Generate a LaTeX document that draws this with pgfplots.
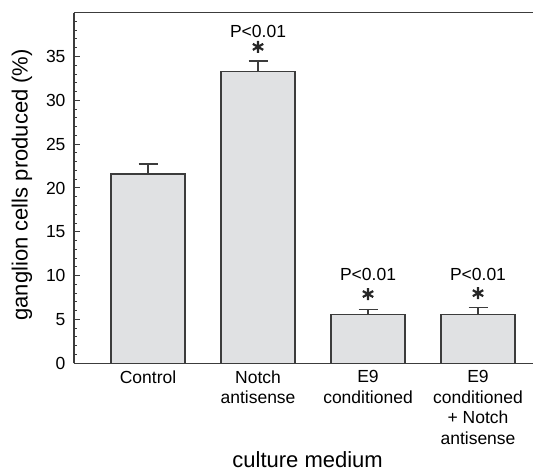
\documentclass[border=0pt]{standalone}
\usepackage{fontspec}
\setmainfont{Liberation Sans}
\usepackage{pgfplots}
\pgfplotsset{compat=1.18}

\definecolor{barfill}{RGB}{224,225,227}
\definecolor{lines}{RGB}{60,60,60}

\begin{document}
\begin{tikzpicture}
\begin{axis}[
  width=459pt, height=350.6pt, scale only axis,
  xmin=0.327, xmax=4.5, ymin=0, ymax=40,
  axis lines=left,
  axis line style={-, draw=lines, line width=1.2pt},
  xtick={1,2,3,4},
  xticklabels={Control,{Notch\\antisense},{E9\\conditioned},{E9\\conditioned\\+ Notch\\antisense}},
  xtick style={draw=none},
  xticklabel style={align=center, font=\fontsize{17.5}{20.5}\selectfont, yshift=-3.5pt},
  ytick={0,5,...,35},
  minor ytick={0,1,...,40},
  tick align=inside,
  major tick length=6pt, minor tick length=3.5pt,
  ytick style={draw=lines, line width=1pt},
  yticklabel style={font=\fontsize{17.5}{20.5}\selectfont, xshift=-5pt},
  /pgf/number format/assume math mode=true,
  xlabel={culture medium},
  ylabel={ganglion cells produced (\%)},
  label style={font=\fontsize{22}{26}\selectfont},
  xlabel style={at={(axis description cs:0.509,0)}, anchor=base, yshift=-104.5pt},
  ylabel style={at={(axis description cs:-0.1133,0.509)}, anchor=center},
  clip=false,
]
\coordinate (bl) at (rel axis cs:0,0);
\coordinate (tr) at (rel axis cs:1,1);
\draw[draw=lines, line width=1.2pt] (rel axis cs:0,1) -- (rel axis cs:1.02,1);

% bars with upper error bars
\addplot[ybar, bar width=0.673, fill=barfill, draw=lines, line width=1.2pt,
  error bars/.cd, y dir=plus, y explicit,
  error bar style={draw=lines, line width=1.3pt},
  error mark options={rotate=90, mark size=9.5pt, line width=1.3pt, draw=lines}]
  coordinates {(1,21.6) +- (0,1.15) (2,33.3) +- (0,1.2) (3,5.6) +- (0,0.5) (4,5.6) +- (0,0.8)};

% significance stars
\addplot[only marks, mark=asterisk, mark size=6pt, mark options={line width=2.2pt}, black!85]
  coordinates {(2,36.1) (3,7.9) (4,8.0)};

% p-value labels
\addplot[draw=none, mark=none, nodes near coords={P<0.01},
  every node near coord/.append style={anchor=center, font=\fontsize{17.5}{20.5}\selectfont, text=black}]
  coordinates {(2,37.9) (3,10.1) (4,10.1)};
\end{axis}
\pgfresetboundingbox
\path ([shift={(-74pt,-108.7pt)}]bl) rectangle ([shift={(0pt,12.7pt)}]tr);
\end{tikzpicture}
\end{document}
